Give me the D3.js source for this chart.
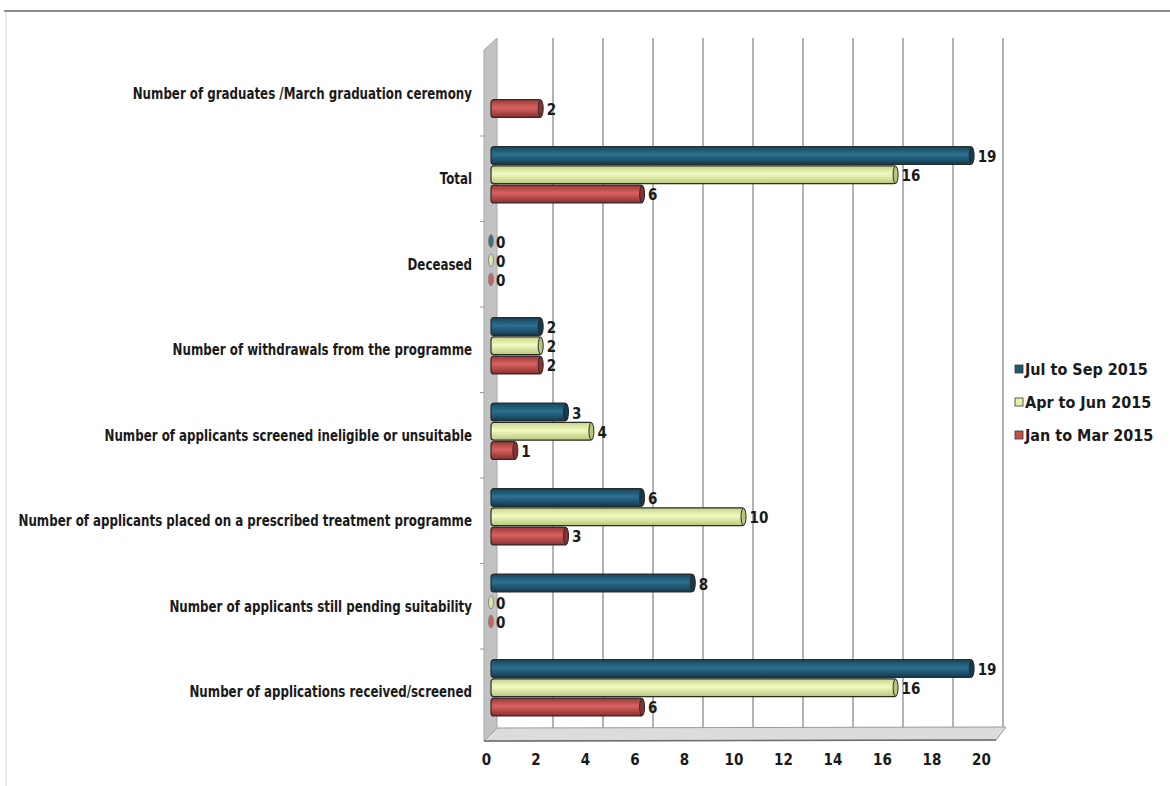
<!DOCTYPE html>
<html>
<head>
<meta charset="utf-8">
<script src="https://cdn.jsdelivr.net/npm/d3@7"></script>
<style>
  body { margin: 0; background: #fff; }
  svg text { font-family: "Liberation Sans Narrow", "DejaVu Sans Condensed", sans-serif; font-weight: bold; fill: #1a1a1a; }
</style>
</head>
<body>
<svg id="chart" width="1170" height="786"></svg>
<script>
// ----- data -----
const categories = [
  "Number of graduates /March graduation ceremony",
  "Total",
  "Deceased",
  "Number of withdrawals from the programme",
  "Number of applicants screened ineligible or unsuitable",
  "Number of applicants placed on a prescribed treatment programme",
  "Number of applicants still pending suitability",
  "Number of applications received/screened"
];
const seriesNames = ["Jul to Sep 2015", "Apr to Jun 2015", "Jan to Mar 2015"];
const julSep = [null, 19, 0, 2, 3, 6, 8, 19];
const aprJun = [null, 16, 0, 2, 4, 10, 0, 16];
const janMar = [2, 6, 0, 2, 1, 3, 0, 6];
const xTicks = [0, 2, 4, 6, 8, 10, 12, 14, 16, 18, 20];

const seriesValues = [julSep, aprJun, janMar];
const seriesColors = [
  { top: "#15455c", mid: "#2c7090", bot: "#123a4e", key: "#1f5a75" },
  { top: "#c4d486", mid: "#f2fbc2", bot: "#b7c77a", key: "#e4f2a6" },
  { top: "#9a3836", mid: "#d8625e", bot: "#8a302e", key: "#c4504c" }
];

const svg = d3.select("svg#chart");

// scan frame
svg.append("line").attr("x1", 4).attr("x2", 1170).attr("y1", 11).attr("y2", 11)
  .attr("stroke", "#8a8a8a").attr("stroke-width", 2);
svg.append("line").attr("x1", 6).attr("x2", 6).attr("y1", 12).attr("y2", 786)
  .attr("stroke", "#ececec").attr("stroke-width", 2);

// scales: bars sit in front, gridlines on the back wall, tick labels on the front floor edge
const xBar = d3.scaleLinear().domain([0, 20]).range([491, 998]);
const xWall = d3.scaleLinear().domain([0, 20]).range([503, 1003]);
const xFront = d3.scaleLinear().domain([0, 20]).range([486, 981]);

const y = d3.scaleBand().domain(categories).range([46.5, 730.5])
  .paddingInner(0.33).paddingOuter(0.165);
const ySeries = d3.scaleBand().domain(seriesNames).range([0, y.bandwidth()]).paddingInner(0.02);

const defs = svg.append("defs");
seriesColors.forEach((c, i) => {
  const g = defs.append("linearGradient").attr("id", "grad" + i)
    .attr("x1", 0).attr("x2", 0).attr("y1", 0).attr("y2", 1);
  g.append("stop").attr("offset", "0%").attr("stop-color", c.top);
  g.append("stop").attr("offset", "45%").attr("stop-color", c.mid);
  g.append("stop").attr("offset", "100%").attr("stop-color", c.bot);
});

// back wall gridlines
svg.append("g").selectAll("line.grid")
  .data(xTicks.slice(1))
  .join("line")
  .attr("class", "grid")
  .attr("x1", d => xWall(d)).attr("x2", d => xWall(d))
  .attr("y1", 38).attr("y2", 728)
  .attr("stroke", "#8a8a8a").attr("stroke-width", 1.3);

// left wall
svg.append("polygon")
  .attr("points", [[484, 50], [497, 38], [497, 728], [484, 741]].map(p => p.join(",")).join(" "))
  .attr("fill", "#c2c2c2").attr("stroke", "#a8a8a8");

// floor
svg.append("polygon")
  .attr("points", [[484, 741], [996, 740], [1006, 727], [497, 728]].map(p => p.join(",")).join(" "))
  .attr("fill", "#dcdcdc").attr("stroke", "#9a9a9a");
svg.append("line").attr("x1", 484).attr("x2", 996).attr("y1", 741).attr("y2", 740)
  .attr("stroke", "#6e6e6e").attr("stroke-width", 1.5);

// small ticks on the wall edge between categories
svg.append("g").selectAll("line.ytick")
  .data(categories.slice(1))
  .join("line")
  .attr("class", "ytick")
  .attr("x1", 480).attr("x2", 484)
  .attr("y1", d => y(d) - y.step() * y.paddingInner() / 2 + 4)
  .attr("y2", d => y(d) - y.step() * y.paddingInner() / 2 + 4)
  .attr("stroke", "#999");

// bars
const barData = [];
categories.forEach((cat, ci) => {
  seriesNames.forEach((s, si) => {
    const v = seriesValues[si][ci];
    if (v !== null) barData.push({ cat, s, si, v });
  });
});

const bars = svg.append("g").selectAll("g.bar")
  .data(barData)
  .join("g")
  .attr("class", "bar")
  .attr("transform", d => `translate(0, ${y(d.cat) + ySeries(d.s)})`);

const h = ySeries.bandwidth();

bars.filter(d => d.v > 0).append("rect")
  .attr("x", xBar(0))
  .attr("y", 0.5)
  .attr("width", d => xBar(d.v) - xBar(0))
  .attr("height", h - 1)
  .attr("rx", 3)
  .attr("fill", d => `url(#grad${d.si})`)
  .attr("stroke", "#2b2b2b").attr("stroke-width", 1.2);

// end caps
bars.filter(d => d.v > 0).append("ellipse")
  .attr("cx", d => xBar(d.v) - 1)
  .attr("cy", h / 2)
  .attr("rx", 2.5)
  .attr("ry", h / 2 - 1)
  .attr("fill", d => seriesColors[d.si].bot)
  .attr("stroke", "#2b2b2b").attr("stroke-width", 1);

// zero stubs
bars.filter(d => d.v === 0).append("ellipse")
  .attr("cx", xBar(0))
  .attr("cy", h / 2)
  .attr("rx", 2.5)
  .attr("ry", h / 2 - 3)
  .attr("fill", d => seriesColors[d.si].key)
  .attr("stroke", "#777").attr("opacity", 0.8);

// value labels
bars.append("text")
  .attr("x", d => xBar(d.v) + 5)
  .attr("y", h / 2 + 2)
  .attr("dominant-baseline", "middle")
  .attr("font-size", 15)
  .text(d => d.v);

// category labels: tall condensed text, squeezed so the longest one spans the scan's width
const catSize = 16;
const catLabels = svg.append("g").selectAll("text.cat")
  .data(categories)
  .join("text")
  .attr("class", "cat")
  .attr("x", 0)
  .attr("y", 0)
  .attr("text-anchor", "end")
  .attr("dominant-baseline", "middle")
  .attr("font-size", catSize)
  .text(d => d);
let widest = 0;
catLabels.each(function () { widest = Math.max(widest, this.getComputedTextLength()); });
const squeeze = Math.min(1, 454 / widest);
catLabels.attr("transform", d => `translate(472, ${y(d) + y.bandwidth() / 2 + 5}) scale(${squeeze}, 1)`);

// x axis labels along the front edge of the floor
const xAxis = d3.axisBottom(xFront).tickValues(xTicks).tickSize(0).tickPadding(0);
const axisG = svg.append("g").attr("transform", "translate(0, 754)").call(xAxis);
axisG.select(".domain").remove();
axisG.selectAll("text").attr("font-size", 15).attr("fill", "#1a1a1a")
  .style("font-family", "'Liberation Sans Narrow', 'DejaVu Sans Condensed', sans-serif").style("font-weight", "bold");

// legend
const legend = svg.append("g").selectAll("g.leg")
  .data(seriesNames)
  .join("g")
  .attr("class", "leg")
  .attr("transform", (d, i) => `translate(1015, ${369 + i * 33})`);
legend.append("rect")
  .attr("x", 0).attr("y", -4).attr("width", 8).attr("height", 8)
  .attr("fill", (d, i) => seriesColors[i].key)
  .attr("stroke", "#333").attr("stroke-width", 0.8);
legend.append("text")
  .attr("x", 10).attr("y", 1)
  .attr("dominant-baseline", "middle")
  .attr("font-size", 16)
  .text(d => d);
</script>
</body>
</html>
